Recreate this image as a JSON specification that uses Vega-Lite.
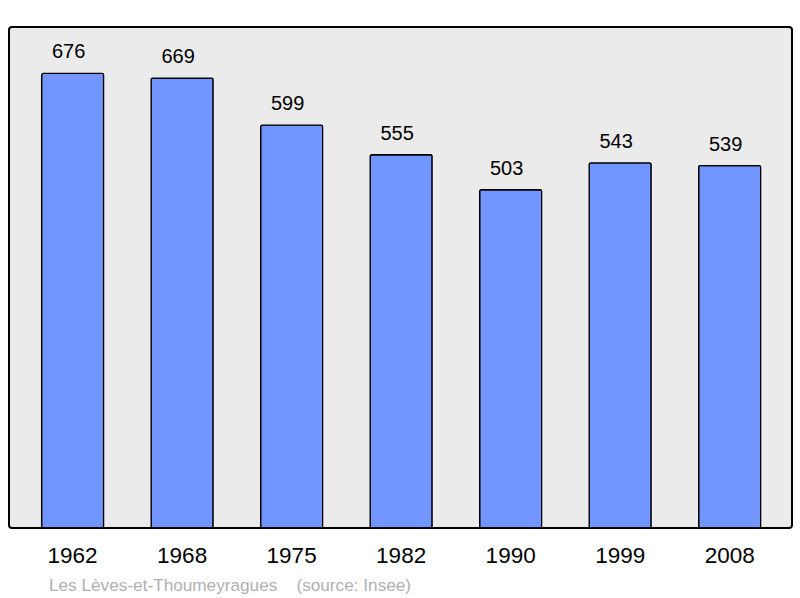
{
  "$schema": "https://vega.github.io/schema/vega-lite/v6.json",
  "autosize": "none",
  "width": 783,
  "height": 501,
  "padding": {"left": 9, "top": 27, "right": 8, "bottom": 70},
  "background": "white",
  "config": {
    "view": {"fill": "#ebebeb", "stroke": "black", "strokeWidth": 2, "cornerRadius": 3},
    "font": "Liberation Sans"
  },
  "title": {
    "text": "Les Lèves-et-Thoumeyragues\u00a0\u00a0\u00a0\u00a0(source: Insee)",
    "orient": "bottom",
    "anchor": "start",
    "frame": "group",
    "dx": 40,
    "offset": 10,
    "fontSize": 17.2,
    "fontWeight": "normal",
    "color": "#b0b0b0",
    "font": "Liberation Sans"
  },
  "data": {
    "values": [
      {"year": "1962", "pop": 676},
      {"year": "1968", "pop": 669},
      {"year": "1975", "pop": 599},
      {"year": "1982", "pop": 555},
      {"year": "1990", "pop": 503},
      {"year": "1999", "pop": 543},
      {"year": "2008", "pop": 539}
    ]
  },
  "encoding": {
    "x": {
      "field": "year",
      "type": "nominal",
      "sort": null,
      "scale": {"paddingInner": 0.434, "paddingOuter": 0.292, "align": 0.51},
      "axis": {
        "title": null,
        "labelAngle": 0,
        "ticks": false,
        "domain": false,
        "labelFontSize": 22.5,
        "labelColor": "black",
        "labelPadding": 16,
        "labelFont": "Liberation Sans"
      }
    },
    "y": {
      "field": "pop",
      "type": "quantitative",
      "scale": {"domain": [0, 745], "nice": false},
      "axis": null
    }
  },
  "layer": [
    {
      "mark": {"type": "bar", "color": "#7196ff", "stroke": "black", "strokeWidth": 1.3, "cornerRadius": 1.5}
    },
    {
      "mark": {"type": "text", "baseline": "bottom", "dy": -11, "dx": -4, "fontSize": 20, "color": "black", "font": "Liberation Sans"},
      "encoding": {"text": {"field": "pop", "type": "quantitative"}}
    }
  ]
}
